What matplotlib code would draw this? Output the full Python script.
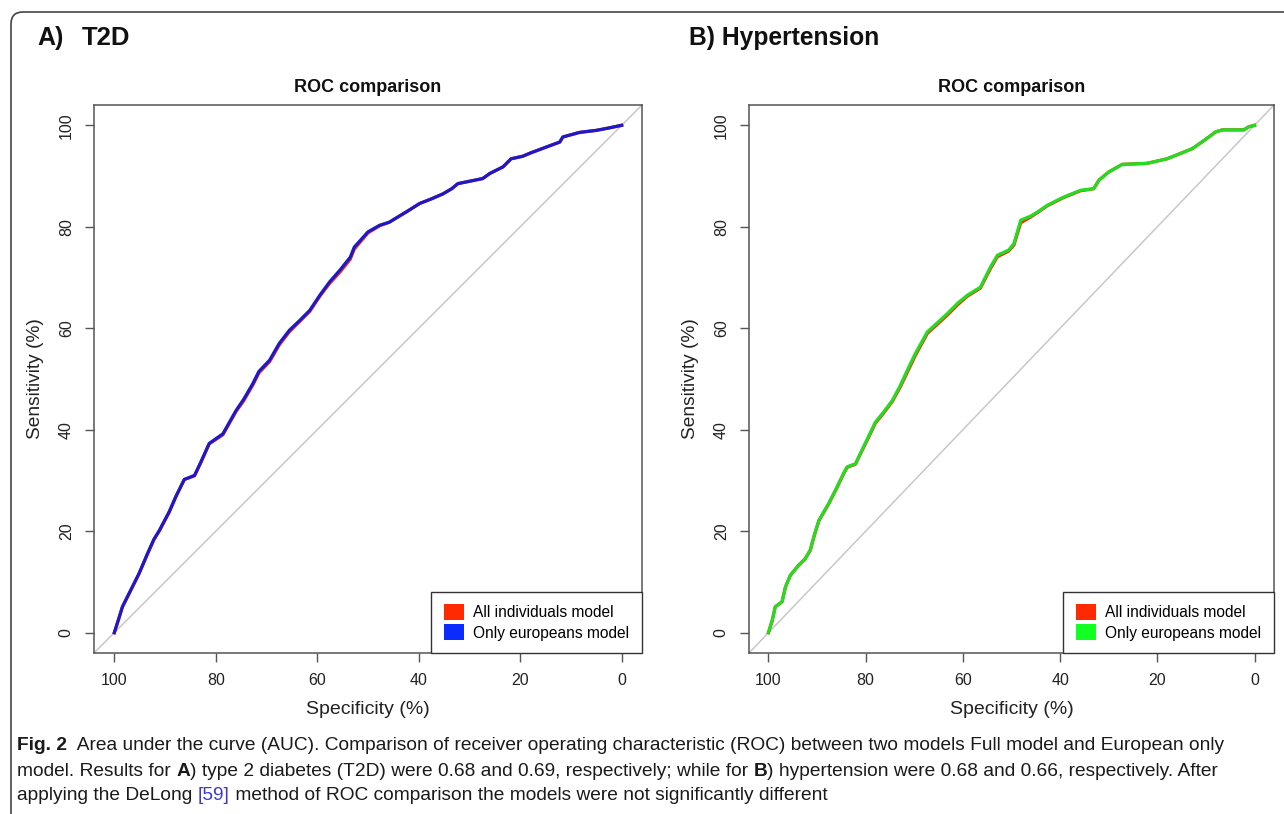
import matplotlib
matplotlib.use('Agg')
import matplotlib.pyplot as plt
from matplotlib.patches import Patch, FancyBboxPatch
from matplotlib import font_manager

# ------------------- data -------------------
# A) T2D, "Only europeans model" (blue)
t2d_eur_spec = [100, 99.2, 98.4, 97.2, 95.1, 93.5, 92.2, 91.1, 89.2, 87.8, 86.2, 84.2, 83.0, 81.3,
                78.6, 76.0, 74.5, 72.7, 71.5, 69.4, 67.5, 65.5, 63.5, 61.5, 59.5, 57.6, 55.5, 53.5,
                52.7, 50.0, 47.7, 45.8, 44.0, 42.5, 39.8, 37.5, 35.2, 33.5, 32.3, 27.4, 26.0, 23.4,
                21.8, 19.5, 18.1, 14.9, 12.2, 11.6, 8.3, 5.0, 2.4, 0]
t2d_eur_sens = [0, 2.5, 5.1, 7.5, 11.7, 15.5, 18.4, 20.2, 23.8, 27.0, 30.2, 31.0, 33.5, 37.3,
                39.2, 43.8, 46.0, 49.1, 51.5, 53.7, 57.0, 59.6, 61.5, 63.5, 66.5, 69.1, 71.5, 74.0,
                76.0, 79.0, 80.3, 80.9, 82.0, 82.9, 84.6, 85.5, 86.5, 87.5, 88.5, 89.5, 90.5, 91.8,
                93.4, 93.9, 94.5, 95.7, 96.7, 97.7, 98.6, 99.0, 99.5, 100]
# A) T2D, "All individuals model" (red, almost hidden under the blue one)
t2d_all_spec = [100, 99.2, 98.4, 97.2, 95.1, 93.5, 92.2, 91.1, 89.2, 87.8, 86.2, 84.2, 83.0, 81.3,
                78.6, 76.0, 74.5, 72.7, 71.5, 69.4, 67.5, 65.5, 63.5, 61.5, 59.5, 57.6, 55.5, 53.5,
                52.7, 50.0, 47.7, 45.8, 44.0, 42.5, 39.8, 37.5, 35.2, 33.5, 32.3, 27.4, 26.0, 23.4,
                21.8, 19.5, 18.1, 14.9, 12.2, 11.6, 8.3, 5.0, 2.4, 0]
t2d_all_sens = [0, 2.5, 5.1, 7.5, 11.7, 15.4, 18.3, 20.1, 23.7, 26.9, 30.2, 30.9, 33.4, 37.2,
                39.0, 43.6, 45.7, 48.8, 51.2, 53.4, 56.7, 59.3, 61.3, 63.3, 66.3, 68.8, 71.1, 73.6,
                75.6, 78.8, 80.2, 80.9, 82.0, 82.9, 84.6, 85.5, 86.5, 87.5, 88.5, 89.5, 90.5, 91.8,
                93.4, 93.9, 94.5, 95.7, 96.7, 97.7, 98.6, 99.0, 99.5, 100]

# B) Hypertension, "Only europeans model" (green)
hyp_eur_spec = [100, 99.2, 98.6, 97.2, 96.5, 95.5, 93.8, 92.5, 91.4, 90.5, 89.6, 87.6, 86.0, 84.5,
                83.8, 82.1, 81.1, 79.5, 78.0, 76.3, 74.5, 73.0, 71.1, 69.8, 67.3, 65.0, 63.2, 61.0,
                59.1, 56.4, 54.3, 52.9, 50.6, 49.5, 48.1, 46.1, 44.5, 42.7, 39.4, 35.8, 33.1, 32.0,
                30.0, 27.2, 22.1, 18.0, 14.6, 12.8, 10.4, 8.0, 6.6, 2.2, 1.2, 0]
hyp_eur_sens = [0, 2.5, 5.1, 6.1, 9.0, 11.3, 13.3, 14.5, 16.3, 19.5, 22.2, 25.5, 28.5, 31.5,
                32.7, 33.3, 35.3, 38.5, 41.5, 43.5, 45.8, 48.5, 52.4, 55.0, 59.3, 61.3, 62.9, 65.0,
                66.5, 68.1, 72.1, 74.4, 75.4, 76.7, 81.3, 82.1, 83.0, 84.2, 85.8, 87.2, 87.5, 89.2,
                90.8, 92.3, 92.5, 93.4, 94.7, 95.4, 97.0, 98.7, 99.1, 99.1, 99.7, 100]
# B) Hypertension, "All individuals model" (red)
hyp_all_spec = [100, 99.2, 98.6, 97.2, 96.5, 95.5, 93.8, 92.5, 91.4, 90.5, 89.6, 87.6, 86.0, 84.5,
                83.8, 82.1, 81.1, 79.5, 78.0, 76.3, 74.5, 73.0, 71.1, 69.8, 67.3, 65.0, 63.2, 61.0,
                59.1, 56.4, 54.3, 52.9, 50.6, 49.5, 48.1, 46.1, 44.5, 42.7, 39.4, 35.8, 33.1, 32.0,
                30.0, 27.2, 22.1, 18.0, 14.6, 12.8, 10.4, 8.0, 6.6, 2.2, 1.2, 0]
hyp_all_sens = [0, 2.5, 5.1, 6.1, 9.0, 11.3, 13.3, 14.5, 16.2, 19.4, 22.1, 25.4, 28.4, 31.4,
                32.6, 33.2, 35.2, 38.3, 41.3, 43.3, 45.6, 48.2, 52.0, 54.6, 59.0, 61.0, 62.6, 64.7,
                66.3, 67.9, 71.8, 74.1, 75.2, 76.4, 80.8, 81.9, 82.9, 84.1, 85.7, 87.1, 87.5, 89.2,
                90.8, 92.3, 92.5, 93.4, 94.7, 95.4, 97.0, 98.7, 99.1, 99.1, 99.7, 100]

ticks = [0, 20, 40, 60, 80, 100]
legend_labels = ['All individuals model', 'Only europeans model']

caption = [
    [('Fig. 2', 'bold', '#1a1a1a'),
     ('  Area under the curve (AUC). Comparison of receiver operating characteristic (ROC) '
      'between two models Full model and European only', 'normal', '#1a1a1a')],
    [('model. Results for ', 'normal', '#1a1a1a'), ('A', 'bold', '#1a1a1a'),
     (') type 2 diabetes (T2D) were 0.68 and 0.69, respectively; while for ', 'normal', '#1a1a1a'),
     ('B', 'bold', '#1a1a1a'),
     (') hypertension were 0.68 and 0.66, respectively. After', 'normal', '#1a1a1a')],
    [('applying the DeLong ', 'normal', '#1a1a1a'), ('[59]', 'normal', '#3a3ad0'),
     (' method of ROC comparison the models were not significantly different', 'normal', '#1a1a1a')],
]


def has_font(name):
    try:
        font_manager.findfont(name, fallback_to_default=False)
        return True
    except ValueError:
        return False


plt.rcParams['font.family'] = ['Liberation Sans', 'DejaVu Sans']
cap_family = ['Liberation Sans Narrow', 'Liberation Sans'] if has_font('Liberation Sans Narrow') \
    else ['Liberation Sans', 'DejaVu Sans']

W, H = 1284, 814
fig = plt.figure(figsize=(W / 100, H / 100), dpi=100)

# background layer in pixel coordinates
bg = fig.add_axes([0, 0, 1, 1], zorder=-1)
bg.set_xlim(0, W)
bg.set_ylim(H, 0)
bg.axis('off')
bg.add_patch(FancyBboxPatch((11, 12), 1500, 1000, boxstyle='round,pad=0,rounding_size=12',
                            facecolor='white', edgecolor='#444444', lw=1.2))

bg.text(37, 38, 'A)', fontsize=18, fontweight='bold', va='center', color='#111111')
bg.text(82, 38, 'T2D', fontsize=18.5, fontweight='bold', va='center', color='#111111')
bg.text(689, 38, 'B) Hypertension', fontsize=17.7, fontweight='bold', va='center', color='#111111')


def roc_panel(ax, spec_all, sens_all, spec_eur, sens_eur, eur_color, eur_patch):
    ax.plot([104, -4], [-4, 104], color='#c8c8c8', lw=1.1, zorder=1)
    ax.plot(spec_all, sens_all, color='#ff2a00', lw=2.3, zorder=2)
    ax.plot(spec_eur, sens_eur, color=eur_color, lw=2.3, zorder=3)
    ax.set_xlim(104, -4)
    ax.set_ylim(-4, 104)
    ax.set_xticks(ticks)
    ax.set_yticks(ticks)
    ax.set_xticklabels([str(t) for t in ticks])
    ax.set_yticklabels([str(t) for t in ticks], rotation=90, va='center')
    ax.tick_params(direction='out', length=6.5, width=1, color='#555555',
                   labelsize=11.5, labelcolor='#222222', pad=8)
    for s in ax.spines.values():
        s.set_color('#555555')
        s.set_linewidth(1.1)
    ax.set_title('ROC comparison', fontsize=13, fontweight='bold', pad=9, color='#111111')
    ax.set_xlabel('Specificity (%)', fontsize=14, color='#222222')
    ax.set_ylabel('Sensitivity (%)', fontsize=13.8, color='#222222')
    wpx = ax.get_position().width * W
    hpx = ax.get_position().height * H
    ax.yaxis.set_label_coords(-50 / wpx, 0.5)
    ax.xaxis.set_label_coords(0.5, -48 / hpx)
    handles = [Patch(facecolor='#ff2a00', edgecolor='none', label=legend_labels[0]),
               Patch(facecolor=eur_patch, edgecolor='none', label=legend_labels[1])]
    leg = ax.legend(handles=handles, loc='lower right', bbox_to_anchor=(1, 0), borderaxespad=0,
                    fancybox=False, framealpha=1, edgecolor='#333333', fontsize=11.2,
                    handlelength=1.3, handleheight=1.2, handletextpad=0.6,
                    borderpad=0.8, labelspacing=0.25)
    leg.get_frame().set_linewidth(1.0)


axL = fig.add_axes([94 / W, 1 - 653 / H, 548 / W, 548 / H])
roc_panel(axL, t2d_all_spec, t2d_all_sens, t2d_eur_spec, t2d_eur_sens, '#1a1acc', '#0a2cff')

axR = fig.add_axes([749 / W, 1 - 653 / H, 525 / W, 548 / H])
roc_panel(axR, hyp_all_spec, hyp_all_sens, hyp_eur_spec, hyp_eur_sens, '#22dd22', '#11ff22')

# caption, drawn piece by piece so that bold and coloured parts line up
renderer = fig.canvas.get_renderer()


def draw_line(segs, x, y, size):
    for txt, weight, color in segs:
        t = bg.text(x, y, txt, fontsize=size, fontweight=weight, color=color,
                    family=cap_family, va='center', ha='left')
        x = x + t.get_window_extent(renderer).width
    return x


# fit the caption width to the reference (first line ends near x=1232)
probe = []
x_end = 17
for txt, weight, color in caption[0]:
    t = bg.text(x_end, -100, txt, fontsize=10, fontweight=weight, family=cap_family)
    x_end += t.get_window_extent(renderer).width
    probe.append(t)
for t in probe:
    t.remove()
cap_size = 10 * (1232 - 17) / (x_end - 17)

for i, segs in enumerate(caption):
    draw_line(segs, 17, 746 + 25 * i, cap_size)

fig.savefig('out.png', dpi=100)
